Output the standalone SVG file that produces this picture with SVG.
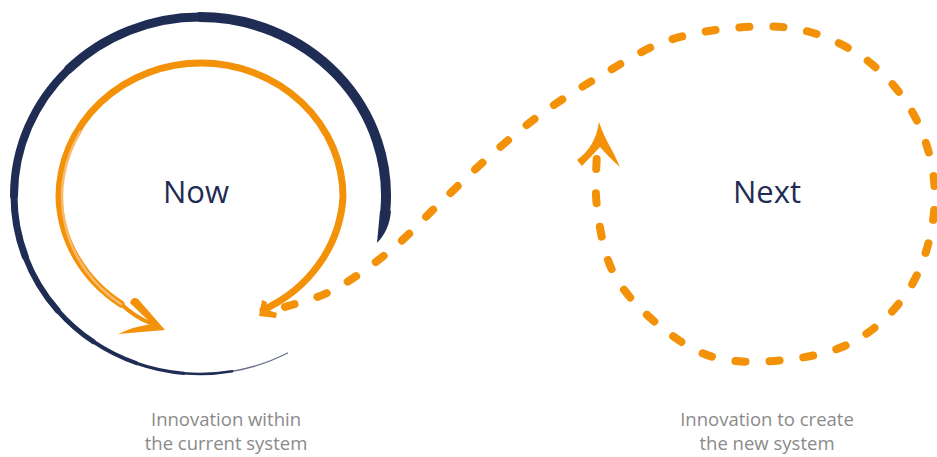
<svg xmlns="http://www.w3.org/2000/svg" width="937" height="457" viewBox="0 0 937 457">
<style>
.navy{fill:none;stroke:#1f2d54;stroke-linecap:round}
.orange{fill:none;stroke:#f39208;stroke-linecap:round;stroke-linejoin:round}
.title{font-family:"Open Sans","Noto Sans",sans-serif;font-size:31px;fill:#1f2d54;text-anchor:middle}
.label{font-family:"Open Sans","Noto Sans",sans-serif;font-size:18.5px;fill:#8a8a8a;text-anchor:middle}
.dash{fill:none;stroke:#f39208;stroke-width:8;stroke-dasharray:10 24;stroke-linecap:round}
</style>
<rect width="937" height="457" fill="#ffffff"/>
<g id="now">
  <g id="now-outer-loop">
    <path d="M380,211 L391,211 C390,225 384,236 377,243 C378,232 379,222 380,211 Z" fill="#1f2d54"/>
    <path class="navy" stroke-width="10" d="M385.3,211.1 A186,178.5 0 0 0 200,17"/>
    <path class="navy" stroke-width="9" d="M200,17 A186,178.5 0 0 0 68.5,69.3"/>
    <path class="navy" stroke-width="8" d="M68.5,69.3 A186,178.5 0 0 0 14,195.5"/>
    <path class="navy" stroke-width="7" d="M14,195.5 A186,178.5 0 0 0 25.2,256.5"/>
    <path class="navy" stroke-width="6" d="M25.2,256.5 A186,178.5 0 0 0 57.5,310.3"/>
    <path class="navy" stroke-width="5" d="M57.5,310.3 A186,178.5 0 0 0 93.3,341.7"/>
    <path class="navy" stroke-width="4" d="M93.3,341.7 A186,178.5 0 0 0 136.4,363.2"/>
    <path class="navy" stroke-width="3.2" d="M136.4,363.2 A186,178.5 0 0 0 183.8,373.3"/>
    <path class="navy" stroke-width="2.4" d="M183.8,373.3 A186,178.5 0 0 0 232.3,371.3"/>
    <path class="navy" stroke-width="1.3" opacity="0.7" d="M232.3,371.3 A186,178.5 0 0 0 287.6,353"/>
  </g>
  <g id="now-inner-loop">
    <path class="orange" stroke-width="7" d="M263,310 A142,134 0 0 0 343,197 A142,134 0 0 0 201,63 A142,134 0 0 0 59,197 A142,134 0 0 0 121,304"/>
    <path class="orange" stroke-width="4" d="M121,304 Q135,317 150,323"/>
    <path fill="none" stroke="#f8bb6e" stroke-width="2.5" stroke-linecap="round" d="M80.6,131.5 A139,131 0 0 0 121.2,304.3"/>
    <path d="M130,303 Q132,296 138,299 L165,330 L118,334 Q135,326 152,324 Z" fill="#f39208"/>
    <path d="M259,316 L262,300 L267,302 L265,309 L277,313 L276,318 Z" fill="#f39208"/>
  </g>
  <text class="title" x="196" y="203">Now</text>
</g>
<g id="next">
  <text class="title" x="767" y="203">Next</text>
</g>
<g id="connectors">
  <path class="dash" d="M285,307 C293,304.2 315.3,299.5 333,290 C353.2,279.5 373.2,264.5 391,250 C408.8,235.5 423.3,218.8 440,203 C456.7,187.2 473.7,170.2 491,155 C508.3,139.8 525.5,125.3 544,112 C562.5,98.7 582,86.7 602,75 C622,63.3 642.2,49.8 664,42 C685.8,34.2 710,30 733,28 C756,26 780.2,25 802,30 C823.8,35 846,45 864,58 C882,71 898.5,89 910,108 C921.5,127 929.7,150.5 933,172 C936.3,193.5 934.8,216.2 930,237 C925.2,257.8 916.8,279.5 904,297 C891.2,314.5 873,331.5 853,342 C833,352.5 807.3,357.5 784,360 C760.7,362.5 734.5,363.3 713,357 C691.5,350.7 671.7,336.2 655,322 C638.3,307.8 622.7,291.2 613,272 C603.3,252.8 599.7,227.3 597,207 C594.3,186.7 597,159.5 597,150"/>
  <path d="M599,122 C596,140 590,150 577,160 L582,166 C590,158 595,152 600,147 C606,154 612,160 620,167 C613,150 605,140 599,122 Z" fill="#f39208"/>
</g>
<g id="label-now">
  <text class="label" x="226" y="426">Innovation within</text>
  <text class="label" x="226" y="450">the current system</text>
</g>
<g id="label-next">
  <text class="label" x="767" y="426">Innovation to create</text>
  <text class="label" x="767" y="450">the new system</text>
</g>
</svg>
